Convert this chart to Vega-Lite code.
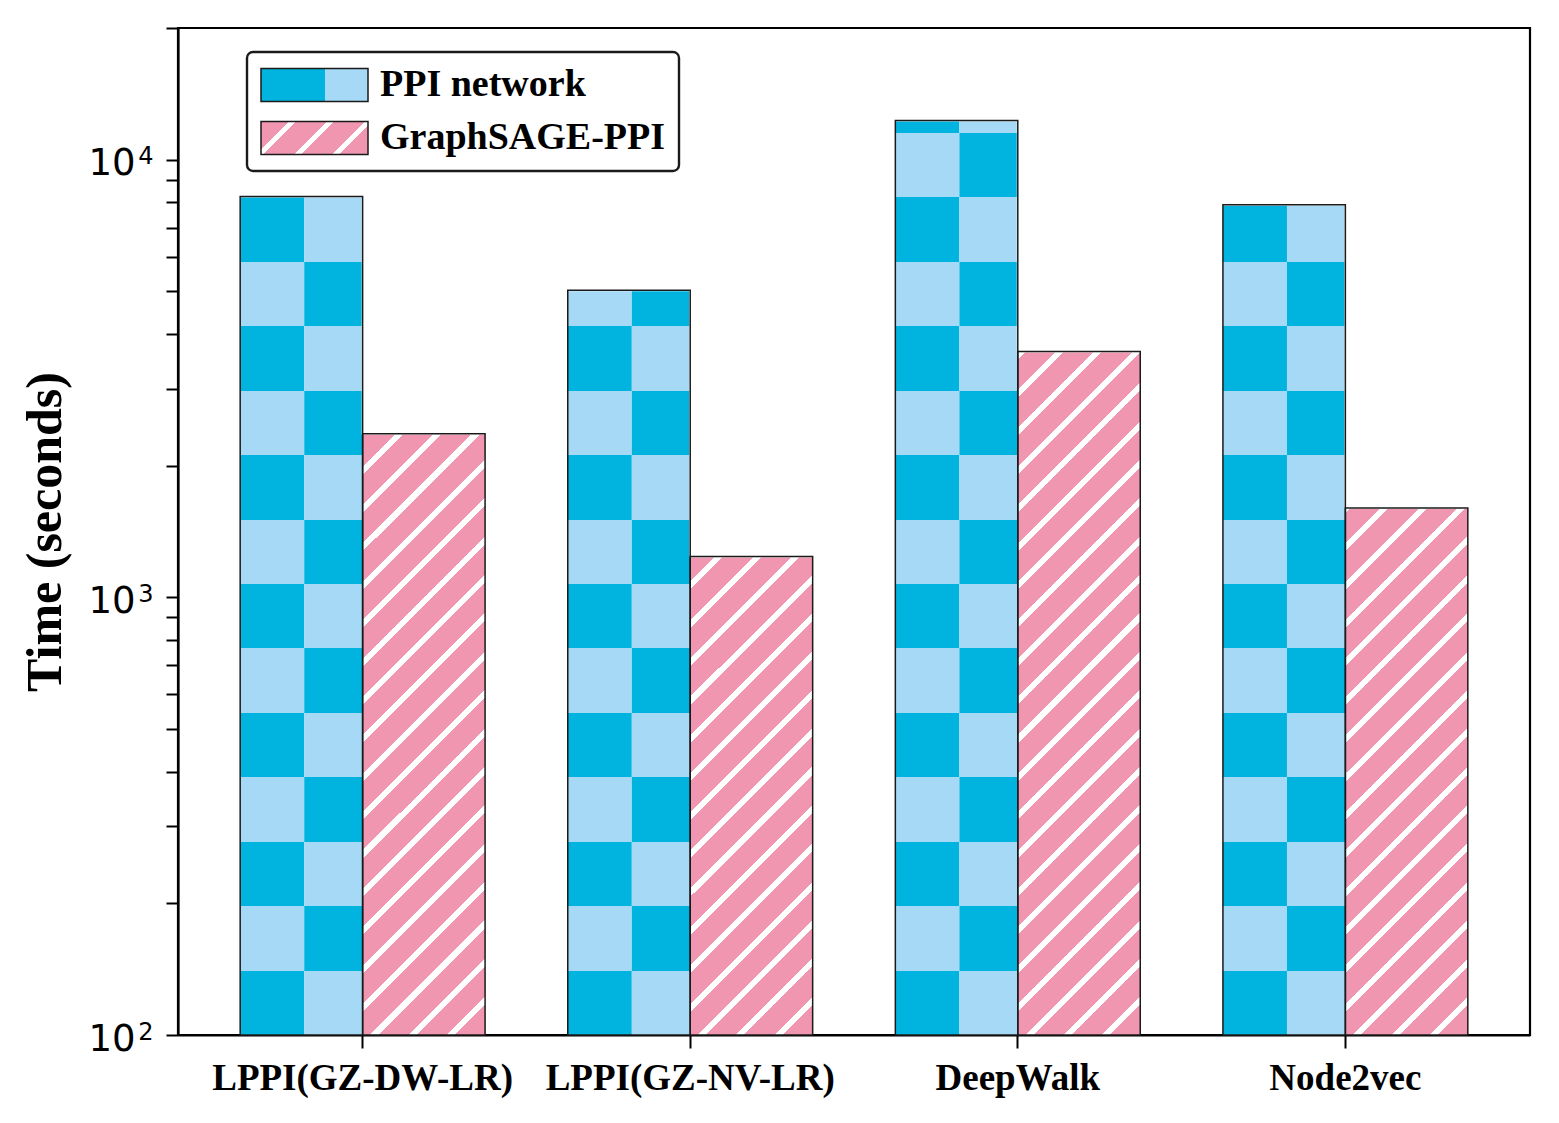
{
  "$schema": "https://vega.github.io/schema/vega-lite/v6.json",
  "autosize": "none",
  "padding": {"left": 178, "top": 28, "right": 29, "bottom": 88},
  "width": 1352,
  "height": 1007,
  "background": "white",
  "config": {
    "view": {"stroke": "black", "strokeWidth": 2.2},
    "legend": {"strokeWidth": 2.4}
  },
  "data": {
    "values": [
      {"method": "LPPI(GZ-DW-LR)", "series": "PPI network", "time": 8240},
      {"method": "LPPI(GZ-DW-LR)", "series": "GraphSAGE-PPI", "time": 2365},
      {"method": "LPPI(GZ-NV-LR)", "series": "PPI network", "time": 5030},
      {"method": "LPPI(GZ-NV-LR)", "series": "GraphSAGE-PPI", "time": 1240},
      {"method": "DeepWalk", "series": "PPI network", "time": 12300},
      {"method": "DeepWalk", "series": "GraphSAGE-PPI", "time": 3645},
      {"method": "Node2vec", "series": "PPI network", "time": 7890},
      {"method": "Node2vec", "series": "GraphSAGE-PPI", "time": 1600}
    ]
  },
  "resolve": {"axis": {"y": "independent"}},
  "encoding": {
    "x": {
      "field": "method",
      "type": "nominal",
      "sort": null,
      "scale": {"paddingInner": 0.2524, "paddingOuter": 0.1898},
      "axis": {
        "title": null,
        "bandPosition": 0.5,
        "labelFont": "Liberation Serif",
        "labelFontWeight": "bold",
        "labelFontSize": 37,
        "labelColor": "black",
        "labelAngle": 0,
        "labelPadding": 12,
        "labelOverlap": false,
        "labelLimit": 0,
        "tickSize": 13,
        "tickWidth": 2,
        "tickColor": "black",
        "domainColor": "black",
        "domainWidth": 2.2
      }
    }
  },
  "layer": [
    {
      "transform": [{"filter": "datum.series === 'PPI network'"}],
      "mark": {
        "type": "bar",
        "width": 64,
        "xOffset": -90.4,
        "strokeWidth": 0,
        "fill": {
          "gradient": "linear", "x1": 0, "y1": 1, "x2": 0, "y2": 0,
          "stops": [
            {"offset": 0, "color": "#00B4DF"}, {"offset": 0.0677, "color": "#00B4DF"},
            {"offset": 0.0677, "color": "#A5D9F5"}, {"offset": 0.1353, "color": "#A5D9F5"},
            {"offset": 0.1353, "color": "#00B4DF"}, {"offset": 0.203, "color": "#00B4DF"},
            {"offset": 0.203, "color": "#A5D9F5"}, {"offset": 0.2707, "color": "#A5D9F5"},
            {"offset": 0.2707, "color": "#00B4DF"}, {"offset": 0.3383, "color": "#00B4DF"},
            {"offset": 0.3383, "color": "#A5D9F5"}, {"offset": 0.406, "color": "#A5D9F5"},
            {"offset": 0.406, "color": "#00B4DF"}, {"offset": 0.4737, "color": "#00B4DF"},
            {"offset": 0.4737, "color": "#A5D9F5"}, {"offset": 0.5413, "color": "#A5D9F5"},
            {"offset": 0.5413, "color": "#00B4DF"}, {"offset": 0.609, "color": "#00B4DF"},
            {"offset": 0.609, "color": "#A5D9F5"}, {"offset": 0.6767, "color": "#A5D9F5"},
            {"offset": 0.6767, "color": "#00B4DF"}, {"offset": 0.7443, "color": "#00B4DF"},
            {"offset": 0.7443, "color": "#A5D9F5"}, {"offset": 0.812, "color": "#A5D9F5"},
            {"offset": 0.812, "color": "#00B4DF"}, {"offset": 0.8797, "color": "#00B4DF"},
            {"offset": 0.8797, "color": "#A5D9F5"}, {"offset": 0.9473, "color": "#A5D9F5"},
            {"offset": 0.9473, "color": "#00B4DF"}, {"offset": 1, "color": "#00B4DF"}
          ]
        }
      },
      "encoding": {
        "y": {"datum": 100, "type": "quantitative", "scale": {"type": "log", "domain": [100, 20000], "nice": false}, "axis": null},
        "y2": {"datum": 15000}
      }
    },
    {
      "transform": [{"filter": "datum.series === 'PPI network'"}],
      "mark": {
        "type": "bar",
        "width": 58.4,
        "xOffset": -29.2,
        "strokeWidth": 0,
        "fill": {
          "gradient": "linear", "x1": 0, "y1": 1, "x2": 0, "y2": 0,
          "stops": [
            {"offset": 0, "color": "#A5D9F5"}, {"offset": 0.0677, "color": "#A5D9F5"},
            {"offset": 0.0677, "color": "#00B4DF"}, {"offset": 0.1353, "color": "#00B4DF"},
            {"offset": 0.1353, "color": "#A5D9F5"}, {"offset": 0.203, "color": "#A5D9F5"},
            {"offset": 0.203, "color": "#00B4DF"}, {"offset": 0.2707, "color": "#00B4DF"},
            {"offset": 0.2707, "color": "#A5D9F5"}, {"offset": 0.3383, "color": "#A5D9F5"},
            {"offset": 0.3383, "color": "#00B4DF"}, {"offset": 0.406, "color": "#00B4DF"},
            {"offset": 0.406, "color": "#A5D9F5"}, {"offset": 0.4737, "color": "#A5D9F5"},
            {"offset": 0.4737, "color": "#00B4DF"}, {"offset": 0.5413, "color": "#00B4DF"},
            {"offset": 0.5413, "color": "#A5D9F5"}, {"offset": 0.609, "color": "#A5D9F5"},
            {"offset": 0.609, "color": "#00B4DF"}, {"offset": 0.6767, "color": "#00B4DF"},
            {"offset": 0.6767, "color": "#A5D9F5"}, {"offset": 0.7443, "color": "#A5D9F5"},
            {"offset": 0.7443, "color": "#00B4DF"}, {"offset": 0.812, "color": "#00B4DF"},
            {"offset": 0.812, "color": "#A5D9F5"}, {"offset": 0.8797, "color": "#A5D9F5"},
            {"offset": 0.8797, "color": "#00B4DF"}, {"offset": 0.9473, "color": "#00B4DF"},
            {"offset": 0.9473, "color": "#A5D9F5"}, {"offset": 1, "color": "#A5D9F5"}
          ]
        }
      },
      "encoding": {
        "y": {"datum": 100, "type": "quantitative", "scale": {"type": "log", "domain": [100, 20000], "nice": false}, "axis": null},
        "y2": {"datum": 15000}
      }
    },
    {
      "transform": [{"filter": "datum.series === 'GraphSAGE-PPI'"}],
      "mark": {
        "type": "bar",
        "strokeWidth": 0,
        "fill": {
          "gradient": "linear", "x1": 0, "y1": 0, "x2": 0.1427, "y2": 1.1102,
          "stops": [
            {"offset": 0, "color": "#FFFFFF"}, {"offset": 0.0075, "color": "#FFFFFF"}, {"offset": 0.0075, "color": "#F096B1"}, {"offset": 0.0357, "color": "#F096B1"},
            {"offset": 0.0357, "color": "#FFFFFF"}, {"offset": 0.0432, "color": "#FFFFFF"}, {"offset": 0.0432, "color": "#F096B1"}, {"offset": 0.0714, "color": "#F096B1"},
            {"offset": 0.0714, "color": "#FFFFFF"}, {"offset": 0.0789, "color": "#FFFFFF"}, {"offset": 0.0789, "color": "#F096B1"}, {"offset": 0.1071, "color": "#F096B1"},
            {"offset": 0.1071, "color": "#FFFFFF"}, {"offset": 0.1146, "color": "#FFFFFF"}, {"offset": 0.1146, "color": "#F096B1"}, {"offset": 0.1429, "color": "#F096B1"},
            {"offset": 0.1429, "color": "#FFFFFF"}, {"offset": 0.1504, "color": "#FFFFFF"}, {"offset": 0.1504, "color": "#F096B1"}, {"offset": 0.1786, "color": "#F096B1"},
            {"offset": 0.1786, "color": "#FFFFFF"}, {"offset": 0.1861, "color": "#FFFFFF"}, {"offset": 0.1861, "color": "#F096B1"}, {"offset": 0.2143, "color": "#F096B1"},
            {"offset": 0.2143, "color": "#FFFFFF"}, {"offset": 0.2218, "color": "#FFFFFF"}, {"offset": 0.2218, "color": "#F096B1"}, {"offset": 0.25, "color": "#F096B1"},
            {"offset": 0.25, "color": "#FFFFFF"}, {"offset": 0.2575, "color": "#FFFFFF"}, {"offset": 0.2575, "color": "#F096B1"}, {"offset": 0.2857, "color": "#F096B1"},
            {"offset": 0.2857, "color": "#FFFFFF"}, {"offset": 0.2932, "color": "#FFFFFF"}, {"offset": 0.2932, "color": "#F096B1"}, {"offset": 0.3214, "color": "#F096B1"},
            {"offset": 0.3214, "color": "#FFFFFF"}, {"offset": 0.3289, "color": "#FFFFFF"}, {"offset": 0.3289, "color": "#F096B1"}, {"offset": 0.3571, "color": "#F096B1"},
            {"offset": 0.3571, "color": "#FFFFFF"}, {"offset": 0.3646, "color": "#FFFFFF"}, {"offset": 0.3646, "color": "#F096B1"}, {"offset": 0.3929, "color": "#F096B1"},
            {"offset": 0.3929, "color": "#FFFFFF"}, {"offset": 0.4004, "color": "#FFFFFF"}, {"offset": 0.4004, "color": "#F096B1"}, {"offset": 0.4286, "color": "#F096B1"},
            {"offset": 0.4286, "color": "#FFFFFF"}, {"offset": 0.4361, "color": "#FFFFFF"}, {"offset": 0.4361, "color": "#F096B1"}, {"offset": 0.4643, "color": "#F096B1"},
            {"offset": 0.4643, "color": "#FFFFFF"}, {"offset": 0.4718, "color": "#FFFFFF"}, {"offset": 0.4718, "color": "#F096B1"}, {"offset": 0.5, "color": "#F096B1"},
            {"offset": 0.5, "color": "#FFFFFF"}, {"offset": 0.5075, "color": "#FFFFFF"}, {"offset": 0.5075, "color": "#F096B1"}, {"offset": 0.5357, "color": "#F096B1"},
            {"offset": 0.5357, "color": "#FFFFFF"}, {"offset": 0.5432, "color": "#FFFFFF"}, {"offset": 0.5432, "color": "#F096B1"}, {"offset": 0.5714, "color": "#F096B1"},
            {"offset": 0.5714, "color": "#FFFFFF"}, {"offset": 0.5789, "color": "#FFFFFF"}, {"offset": 0.5789, "color": "#F096B1"}, {"offset": 0.6071, "color": "#F096B1"},
            {"offset": 0.6071, "color": "#FFFFFF"}, {"offset": 0.6146, "color": "#FFFFFF"}, {"offset": 0.6146, "color": "#F096B1"}, {"offset": 0.6429, "color": "#F096B1"},
            {"offset": 0.6429, "color": "#FFFFFF"}, {"offset": 0.6504, "color": "#FFFFFF"}, {"offset": 0.6504, "color": "#F096B1"}, {"offset": 0.6786, "color": "#F096B1"},
            {"offset": 0.6786, "color": "#FFFFFF"}, {"offset": 0.6861, "color": "#FFFFFF"}, {"offset": 0.6861, "color": "#F096B1"}, {"offset": 0.7143, "color": "#F096B1"},
            {"offset": 0.7143, "color": "#FFFFFF"}, {"offset": 0.7218, "color": "#FFFFFF"}, {"offset": 0.7218, "color": "#F096B1"}, {"offset": 0.75, "color": "#F096B1"},
            {"offset": 0.75, "color": "#FFFFFF"}, {"offset": 0.7575, "color": "#FFFFFF"}, {"offset": 0.7575, "color": "#F096B1"}, {"offset": 0.7857, "color": "#F096B1"},
            {"offset": 0.7857, "color": "#FFFFFF"}, {"offset": 0.7932, "color": "#FFFFFF"}, {"offset": 0.7932, "color": "#F096B1"}, {"offset": 0.8214, "color": "#F096B1"},
            {"offset": 0.8214, "color": "#FFFFFF"}, {"offset": 0.8289, "color": "#FFFFFF"}, {"offset": 0.8289, "color": "#F096B1"}, {"offset": 0.8571, "color": "#F096B1"},
            {"offset": 0.8571, "color": "#FFFFFF"}, {"offset": 0.8646, "color": "#FFFFFF"}, {"offset": 0.8646, "color": "#F096B1"}, {"offset": 0.8929, "color": "#F096B1"},
            {"offset": 0.8929, "color": "#FFFFFF"}, {"offset": 0.9004, "color": "#FFFFFF"}, {"offset": 0.9004, "color": "#F096B1"}, {"offset": 0.9286, "color": "#F096B1"},
            {"offset": 0.9286, "color": "#FFFFFF"}, {"offset": 0.9361, "color": "#FFFFFF"}, {"offset": 0.9361, "color": "#F096B1"}, {"offset": 0.9643, "color": "#F096B1"},
            {"offset": 0.9643, "color": "#FFFFFF"}, {"offset": 0.9718, "color": "#FFFFFF"}, {"offset": 0.9718, "color": "#F096B1"}, {"offset": 1, "color": "#F096B1"}
          ]
        }
      },
      "encoding": {
        "xOffset": {"field": "series", "type": "nominal", "scale": {"domain": ["PPI network", "GraphSAGE-PPI"], "paddingInner": 0, "paddingOuter": 0}},
        "y": {"datum": 100, "type": "quantitative", "scale": {"type": "log", "domain": [100, 20000], "nice": false}, "axis": null},
        "y2": {"datum": 15000}
      }
    },
    {
      "mark": {"type": "bar", "fill": "white", "stroke": "white", "strokeWidth": 2},
      "encoding": {
        "xOffset": {"field": "series", "type": "nominal", "scale": {"domain": ["PPI network", "GraphSAGE-PPI"], "paddingInner": 0, "paddingOuter": 0}},
        "y": {
          "field": "time",
          "type": "quantitative",
          "scale": {"type": "log", "domain": [100, 20000], "nice": false},
          "axis": {
            "orient": "left",
            "title": null,
            "values": [100, 1000, 10000],
            "labelExpr": "datum.value === 100 ? '2' : datum.value === 1000 ? '3' : '4'",
            "labelFont": "DejaVu Sans",
            "labelFontSize": 24,
            "labelColor": "black",
            "labelAlign": "right",
            "labelPadding": 13,
            "labelOffset": -3,
            "labelOverlap": false,
            "tickSize": 12,
            "tickColor": "transparent",
            "domain": false,
            "grid": false
          }
        },
        "y2": {"datum": 15000}
      }
    },
    {
      "mark": {"type": "bar", "fillOpacity": 0, "stroke": "#1a1a1a", "strokeWidth": 1.5},
      "encoding": {
        "xOffset": {"field": "series", "type": "nominal", "scale": {"domain": ["PPI network", "GraphSAGE-PPI"], "paddingInner": 0, "paddingOuter": 0}},
        "y": {
          "field": "time",
          "type": "quantitative",
          "scale": {"type": "log", "domain": [100, 20000], "nice": false},
          "axis": {
            "orient": "left",
            "title": "Time (seconds)",
            "titleFont": "Liberation Serif",
            "titleFontWeight": "bold",
            "titleFontSize": 50,
            "titleColor": "black",
            "titleAngle": 270,
            "titleAlign": "center",
            "titleBaseline": "bottom",
            "titleX": -108,
            "titleY": 503.5,
            "values": [100, 200, 300, 400, 500, 600, 700, 800, 900, 1000, 2000, 3000, 4000, 5000, 6000, 7000, 8000, 9000, 10000, 20000],
            "labelExpr": "datum.value === 100 || datum.value === 1000 || datum.value === 10000 ? '10' : ''",
            "labelFont": "DejaVu Sans",
            "labelFontSize": 37,
            "labelColor": "black",
            "labelAlign": "right",
            "labelPadding": 31,
            "labelOffset": 4,
            "labelOverlap": false,
            "tickSize": 12,
            "tickWidth": 2,
            "tickColor": "black",
            "domainColor": "black",
            "domainWidth": 2.2,
            "grid": false,
            "encode": {
              "ticks": {
                "x2": {"value": {"expr": "datum.value === 100 || datum.value === 1000 || datum.value === 10000 ? -12 : -6.5"}}
              }
            }
          }
        },
        "y2": {"datum": 100},
        "fill": {
          "field": "series",
          "type": "nominal",
          "scale": {
            "domain": ["PPI network", "GraphSAGE-PPI"],
            "range": [
              {"expr": "{gradient: 'linear', x1: 0, y1: 0, x2: 1, y2: 0, stops: [{offset: 0, color: '#00B4DF'}, {offset: 0.6, color: '#00B4DF'}, {offset: 0.6, color: '#A5D9F5'}, {offset: 1, color: '#A5D9F5'}]}"},
              {"expr": "{gradient: 'linear', x1: 0, y1: 0, x2: 1.1948, y2: 0.3685, stops: [{offset: 0, color: '#F096B1'}, {offset: 0.2, color: '#F096B1'}, {offset: 0.2, color: '#FFFFFF'}, {offset: 0.25, color: '#FFFFFF'}, {offset: 0.25, color: '#F096B1'}, {offset: 0.47, color: '#F096B1'}, {offset: 0.47, color: '#FFFFFF'}, {offset: 0.52, color: '#FFFFFF'}, {offset: 0.52, color: '#F096B1'}, {offset: 0.74, color: '#F096B1'}, {offset: 0.74, color: '#FFFFFF'}, {offset: 0.79, color: '#FFFFFF'}, {offset: 0.79, color: '#F096B1'}, {offset: 1, color: '#F096B1'}]}"}
            ]
          },
          "legend": {
            "title": null,
            "orient": "none",
            "legendX": 69,
            "legendY": 24,
            "padding": 13,
            "cornerRadius": 6,
            "fillColor": "white",
            "strokeColor": "#1a1a1a",
            "symbolType": "M-1,-0.3084H1V0.3084H-1Z",
            "symbolSize": 11449,
            "symbolOffset": 0,
            "clipHeight": 40,
            "rowPadding": 13,
            "labelFont": "Liberation Serif",
            "labelFontWeight": "bold",
            "labelFontSize": 38,
            "labelColor": "black",
            "labelOffset": 11,
            "labelLimit": 400,
            "encode": {
              "legend": {"strokeWidth": {"value": 2.4}},
              "symbols": {
                "fillOpacity": {"value": 1},
                "opacity": {"value": 1},
                "stroke": {"value": "#1a1a1a"},
                "strokeWidth": {"value": 1.5}
              }
            }
          }
        }
      }
    }
  ]
}
